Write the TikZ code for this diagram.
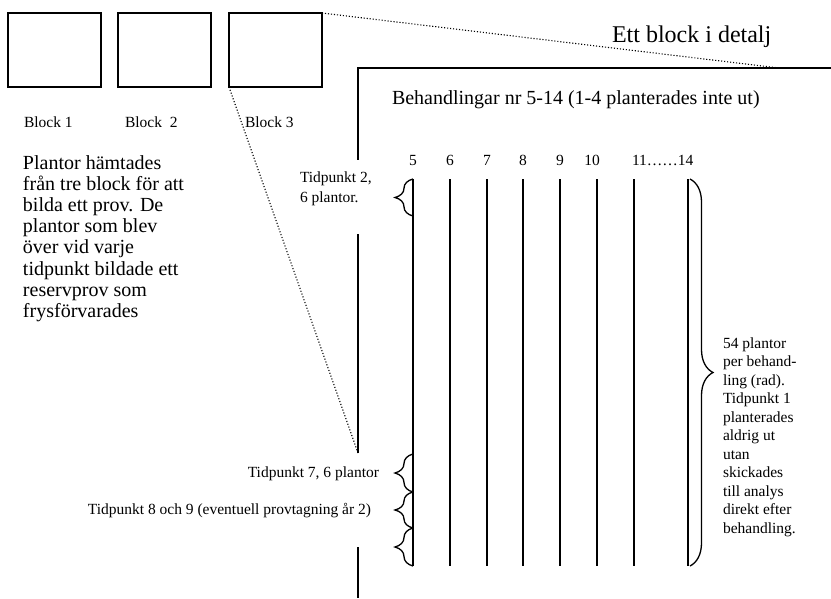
\documentclass[tikz,border=0pt]{standalone}
\usepackage{fontspec}
\setmainfont{Liberation Serif}
\usetikzlibrary{positioning,decorations.pathreplacing}

\begin{document}
\begin{tikzpicture}[x=1pt,y=-1pt,node distance=17pt,
  every node/.style={inner sep=0pt,outer sep=0pt},
  blk/.style={draw,line width=1.5pt,minimum width=93pt,minimum height=74pt},
  small/.style={font=\fontsize{15.5}{18.5}\selectfont,align=left},
  body/.style={font=\fontsize{20}{21.2}\selectfont,align=left},
  frame/.style={line width=2.2pt,line join=miter},
  col/.style={line width=1.4pt},
  zoomline/.style={line width=1.1pt,dash pattern=on 1.1pt off 1.9pt},
  lbrace/.style={decorate,decoration={brace,amplitude=18pt},line width=1.3pt},
  rbrace/.style={decorate,decoration={brace,amplitude=23pt},line width=1.3pt}]
\useasboundingbox (0,0) rectangle (831,598);
% the three blocks
\node[blk] (b1) at (54.5,50) {};
\node[blk,right=of b1] (b2) {};
\node[blk,right=18pt of b2] (b3) {};
\node[small,anchor=base west] (lb1) at (24,127) {Block 1};
\node[small,anchor=base west] (lb2) at (125,127) {Block~~2};
\node[small,anchor=base west] (lb3) at (245,127) {Block 3};
% multi-line nodes sit on the baseline of their last line
\node[body,anchor=base west] (info) at (23,317.5) {Plantor hämtades\\från tre block för att\\bilda ett prov. De\\plantor som blev\\över vid varje\\tidpunkt bildade ett\\reservprov som\\frysförvarades};
% detail frame
\node[font=\fontsize{24}{28}\selectfont,anchor=base west] (title) at (612,42) {Ett block i detalj};
\coordinate (fc) at (358,68); \coordinate (fr) at (831,68);
\coordinate (g1a) at (358,160); \coordinate (g1b) at (358,234);
\coordinate (g2a) at (358,453); \coordinate (g2b) at (358,547);
\coordinate (fb) at (358,598); \coordinate (zt) at (779,68);
\draw[frame] (fr)--(fc)--(g1a); \draw[frame] (g1b)--(g2a); \draw[frame] (g2b)--(fb);
\draw[zoomline] (b3.north east)--(zt); \draw[zoomline] (b3.south west)--(g2a);
\node[body,anchor=base west] (beh) at (392,104) {Behandlingar nr 5-14 (1-4 planterades inte ut)};
% rows of treatments
\foreach \n/\x in {5/413,6/450,7/487,8/523,9/560,10/597,11/634,14/688}{
  \coordinate (t\n) at (\x,179); \coordinate (u\n) at (\x,566);
  \draw[col] (t\n)--(u\n);}
\foreach \n/\x in {5/413,6/450,7/487,8/523,9/560,10/592}
  \node[small,anchor=base] (n\n) at (\x,165) {\n};
\node[small,anchor=base west] (n11) at (632,165) {11……14};
% time points
\coordinate (k1) at (413,216); \coordinate (k2) at (413,454);
\coordinate (k3) at (413,492); \coordinate (k4) at (413,528);
\draw[lbrace] (k1)--(t5); \draw[lbrace] (k3)--(k2);
\draw[lbrace] (k4)--(k3); \draw[lbrace] (u5)--(k4);
\node[small,anchor=base west,font=\fontsize{15.5}{20}\selectfont] (tp2) at (300,202) {Tidpunkt 2,\\6 plantor.};
\node[small,anchor=base east] (tp7) at (379,477) {Tidpunkt 7, 6 plantor};
\node[small,anchor=base east] (tp8) at (371,514) {Tidpunkt 8 och 9 (eventuell provtagning år 2)};
\coordinate (r1) at (690,179); \coordinate (r2) at (690,566);
\draw[rbrace] (r1)--(r2);
\node[small,anchor=base west] (tot) at (723,533) {54 plantor\\per behand-\\ling (rad).\\Tidpunkt 1\\planterades\\aldrig ut\\utan\\skickades\\till analys\\direkt efter\\behandling.};
\end{tikzpicture}
\end{document}
